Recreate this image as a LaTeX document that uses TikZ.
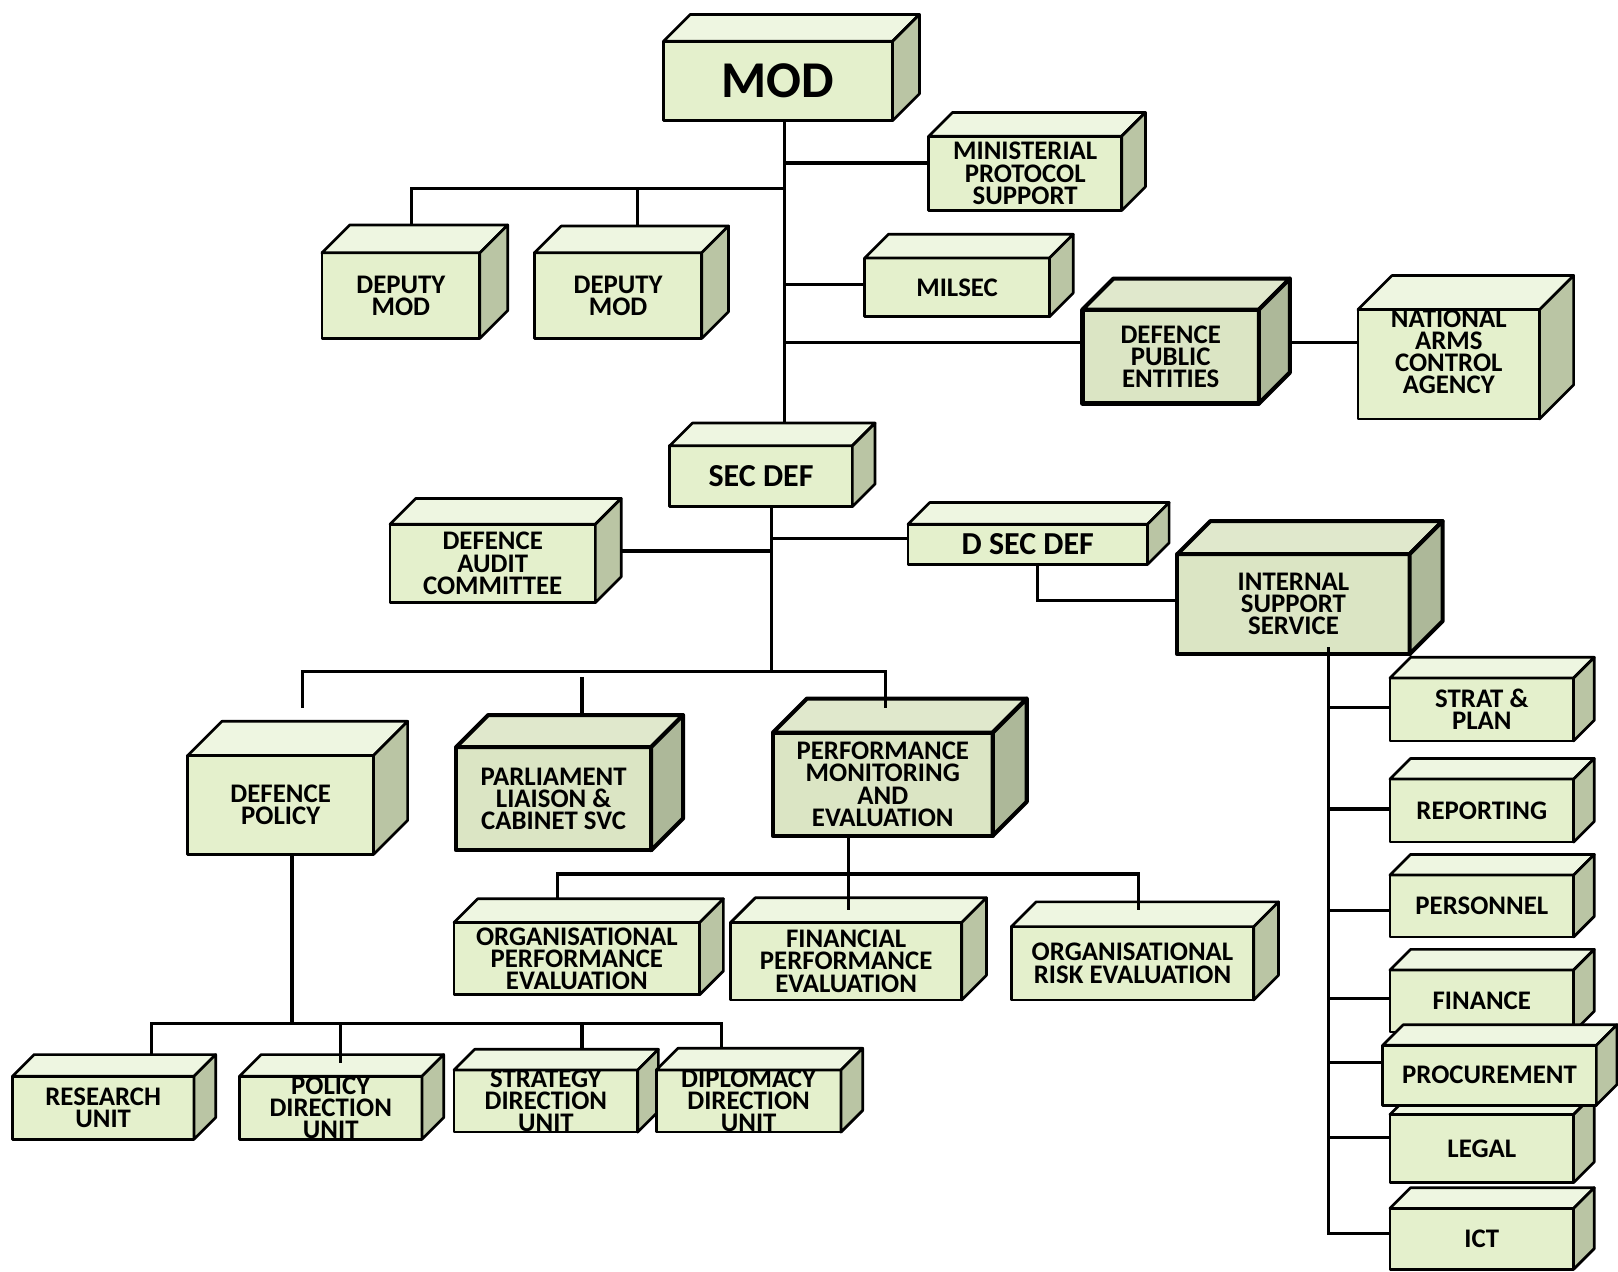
\documentclass[tikz,border=0pt]{standalone}
\usepackage{fontspec}
\setmainfont{Carlito}
\usetikzlibrary{positioning,calc}
\definecolor{cubeFront}{RGB}{228,240,204}
\definecolor{cubeTop}{RGB}{238,246,225}
\definecolor{cubeSide}{RGB}{186,197,164}
\definecolor{keyFront}{RGB}{219,229,196}
\definecolor{keyTop}{RGB}{224,232,204}
\definecolor{keySide}{RGB}{173,184,153}

\tikzset{
  sz/.style 2 args={minimum width=#1*0.5pt, minimum height=#2*0.5pt},
  cubetext/.style={align=center, inner sep=0pt, font=\bfseries\fontsize{13}{10.75}\selectfont},
  cube/.style={cubetext, draw, line width=1.3pt, line join=round, fill=cubeFront, outer sep=0pt},
  keycube/.style={cube, line width=2pt, fill=keyFront},
  cubeedge/.style={draw, line width=1.3pt, line join=round},
  keyedge/.style={draw, line width=2pt, line join=round},
  midtext/.style={font=\bfseries\fontsize{15.5}{16}\selectfont},
  bigtext/.style={font=\bfseries\fontsize{25}{26}\selectfont, line width=1.6pt},
  link/.style={line width=1.5pt},
}

% top and right faces behind front node #2, depth #3
\newcommand{\cubefaces}[3][cube]{%
  \draw[#1edge, fill=#1Top] (#2.north west) -- ++(#3,-#3) -- ([shift={(#3,-#3)}]#2.north east) -- (#2.north east) -- cycle;
  \draw[#1edge, fill=#1Side] (#2.north east) -- ++(#3,-#3) -- ([shift={(#3,-#3)}]#2.south east) -- (#2.south east) -- cycle;
  \coordinate (#2-back) at ([shift={(#3,-#3)}]#2.north);
  \coordinate (#2-rim) at ([shift={(#3,0)}]#2.east);
}

\begin{document}
\begin{tikzpicture}[x=0.5pt, y=-0.5pt]
  \useasboundingbox (0,0) rectangle (1568,1232);
  % Minister and direct offices
  \node[cube, sz={222}{77}, bigtext] (mod) at (754,78.5) {MOD};
  \cubefaces{mod}{26}
  \node[cube, sz={187}{72}] (mps) at (993.5,168) {MINISTERIAL\\PROTOCOL\\SUPPORT};
  \cubefaces{mps}{23}
  \node[cube, sz={153}{83}] (dep1) at (388.5,286.5) {DEPUTY\\MOD};
  \cubefaces{dep1}{27}
  \node[cube, sz={162}{83}] (dep2) at (599,286.5) {DEPUTY\\MOD};
  \cubefaces{dep2}{26}
  \node[cube, sz={179}{57}] (milsec) at (927.5,278.5) {MILSEC};
  \cubefaces{milsec}{23}
  \node[keycube, sz={171}{91}] (dpe) at (1134.5,345.5) {DEFENCE\\PUBLIC\\ENTITIES};
  \cubefaces[key]{dpe}{30}
  \node[cube, sz={176}{106}] (naca) at (1404,353) {};
  \cubefaces{naca}{33}
  \node[cubetext] (nacatext) at ([yshift=6pt]naca.center) {NATIONAL\\ARMS\\CONTROL\\AGENCY};
  % Secretariat
  \node[cube, sz={177}{59}, midtext] (secdef) at (737.5,461.5) {SEC DEF};
  \cubefaces{secdef}{22}
  \node[cube, sz={199}{76}] (dac) at (477.5,546) {DEFENCE\\AUDIT\\COMMITTEE};
  \cubefaces{dac}{25}
  \node[cube, sz={232}{39}, midtext] (dsecdef) at (996,527.5) {D SEC DEF};
  \cubefaces{dsecdef}{21}
  \node[keycube, sz={225}{97}] (iss) at (1253.5,585.5) {INTERNAL\\SUPPORT\\SERVICE};
  \cubefaces[key]{iss}{32}
  % Divisions
  \node[cube, sz={180}{96}] (dp) at (272,780) {DEFENCE\\POLICY};
  \cubefaces{dp}{33}
  \node[keycube, sz={189}{100}] (plc) at (536.5,774) {PARLIAMENT\\LIAISON \&\\CABINET SVC};
  \cubefaces[key]{plc}{31}
  \node[keycube, sz={213}{100}] (pmae) at (855.5,760) {PERFORMANCE\\MONITORING\\AND\\EVALUATION};
  \cubefaces[key]{pmae}{33}
  \node[cube, sz={238}{70}] (ope) at (559,929) {ORGANISATIONAL\\PERFORMANCE\\EVALUATION};
  \cubefaces{ope}{23}
  \node[cube, sz={224}{75}] (fpe) at (820,931.5) {FINANCIAL\\PERFORMANCE\\EVALUATION};
  \cubefaces{fpe}{24}
  \node[cube, sz={235}{71}] (ore) at (1097.5,933.5) {ORGANISATIONAL\\RISK EVALUATION};
  \cubefaces{ore}{24}
  % Policy units
  \node[cube, sz={176}{61}] (ru) at (100,1073.5) {RESEARCH\\UNIT};
  \cubefaces{ru}{21}
  \node[cube, sz={177}{61}] (pdu) at (320.5,1073.5) {POLICY\\DIRECTION\\UNIT};
  \cubefaces{pdu}{21}
  \node[cube, sz={178}{60}] (sdu) at (529,1067) {STRATEGY\\DIRECTION\\UNIT};
  \cubefaces{sdu}{20}
  \node[cube, sz={179}{60}] (ddu) at (725.5,1067) {DIPLOMACY\\DIRECTION\\UNIT};
  \cubefaces{ddu}{21}
  % Support services column (procurement last, it overlaps)
  \foreach \name/\y/\h/\txt in {sap/687.5/61/{STRAT \&\\PLAN}, rep/785.5/61/REPORTING, per/878/60/PERSONNEL, fin/970/60/FINANCE, leg/1113/66/LEGAL, ict/1200.5/59/ICT} {
    \node[cube, sz={178}{\h}] (\name) at (1436,\y) {\txt};
    \cubefaces{\name}{20}
  }
  \node[cube, sz={207}{58}] (pro) at (1443.5,1042) {PROCUREMENT};
  \cubefaces{pro}{20}

  % bus junctions
  \coordinate (modspine) at (760,0);
  \coordinate (depbus) at (0,183);
  \coordinate (secspine) at (748,651);
  \coordinate (lowdrop) at (0,686);
  \coordinate (pmbus) at (822,847);
  \coordinate (dpbus) at (283,992);
  \coordinate (issspine) at (1287,0);

  % MOD spine and branches
  \draw[link] (mod.south -| modspine) -- (secdef-back -| modspine);
  \draw[link] ([yshift=5pt]mps.west -| modspine) -- ([yshift=5pt]mps.west);
  \draw[link] ([xshift=5pt]dep1.north |- dep1-back) |- (depbus -| modspine);
  \draw[link] ([xshift=9.5pt]dep2.north |- depbus) -- ([xshift=9.5pt]dep2.north |- dep2-back);
  \draw[link] ([yshift=1.5pt]milsec.west -| modspine) -- ([yshift=1.5pt]milsec.west);
  \draw[link] ([yshift=7pt]dpe.west -| modspine) -- ([yshift=7pt]dpe.west);
  \draw[link] ([yshift=7pt]dpe.west -| dpe-rim) -- ([yshift=7pt]dpe.west -| naca.west);
  % SEC DEF spine
  \draw[link] (secdef.south -| secspine) -- (secspine);
  \draw[link] ([yshift=6pt]dac.east -| dac-rim) -- ([yshift=6pt]dac.east -| secspine);
  \draw[link] ([yshift=3pt]dsecdef.west -| secspine) -- ([yshift=3pt]dsecdef.west);
  \draw[link] ([xshift=4.5pt]dsecdef.south) |- ([yshift=1.75pt]iss.west);
  \draw[link] ([xshift=10.5pt]dp.north |- lowdrop) |- (secspine) -| ([xshift=1.25pt]pmae.north |- lowdrop);
  \draw[link] ([xshift=13.75pt,yshift=34pt]plc.north) -- ([xshift=13.75pt,yshift=15.5pt]plc.north);
  % PMAE branches
  \draw[link] ([xshift=-16.75pt]pmae.south) -- ([xshift=1pt,yshift=6pt]fpe.north);
  \draw[link] ([xshift=-9.5pt]ope.north |- ope-back) |- (pmbus) -| ([xshift=2.75pt,yshift=8pt]ore.north);
  % Defence policy units
  \draw[link] ([xshift=5.5pt]dp.south) -- (dpbus);
  \draw[link] ([xshift=23.5pt]ru.north |- ru-back) |- (dpbus) -| ([xshift=-13.25pt]ddu.north |- ddu-back);
  \draw[link] ([xshift=4.75pt]pdu.north |- dpbus) -- ([xshift=4.75pt,yshift=6.5pt]pdu.north);
  \draw[link] ([xshift=17.5pt]sdu.north |- dpbus) -- ([xshift=17.5pt]sdu.north |- sdu-back);
  % Internal support service column
  \draw[link] ([yshift=3.5pt]iss.south -| issspine) |- ([yshift=2.75pt]ict.west);
  \foreach \b/\s in {sap/0.75pt, rep/0.75pt, per/-2pt, fin/1pt, pro/6pt, leg/5.5pt}
    \draw[link] ([yshift=\s]\b.west -| issspine) -- ([yshift=\s]\b.west);
\end{tikzpicture}
\end{document}
